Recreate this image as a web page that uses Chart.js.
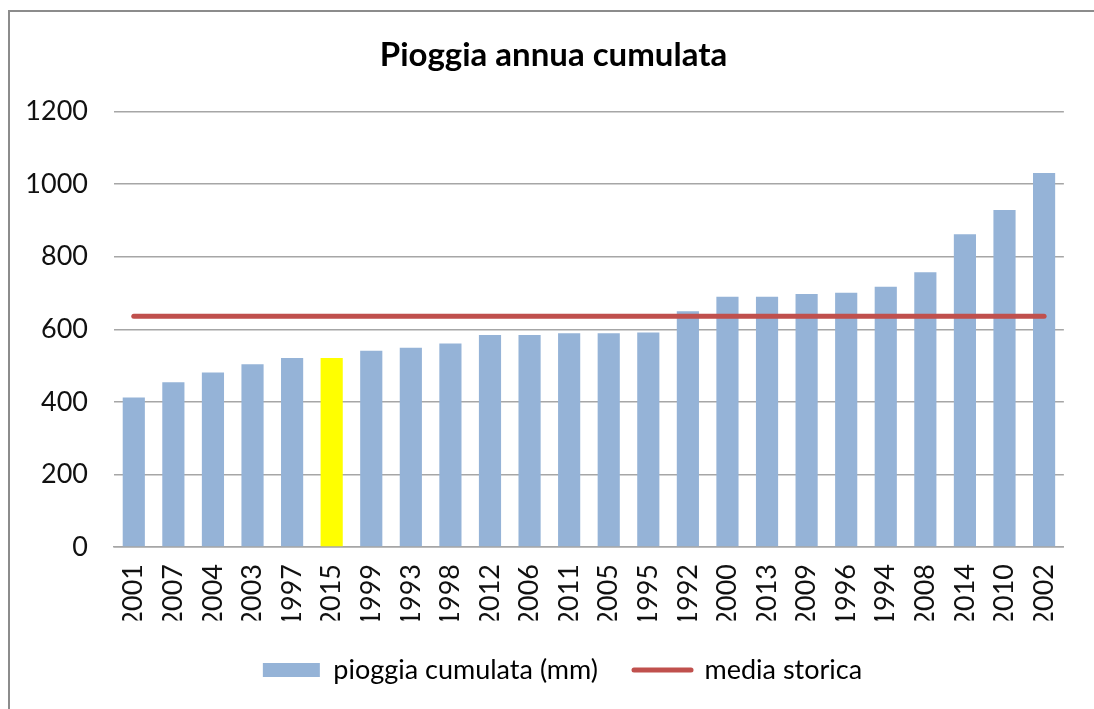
<!DOCTYPE html>
<html>
<head>
<meta charset="utf-8">
<script src="https://cdn.jsdelivr.net/npm/chart.js@4"></script>
<style>
  html, body { margin: 0; padding: 0; background: #fff; }
  body { width: 1094px; height: 709px; position: relative; overflow: hidden; }
  .frame { position: absolute; left: 8px; top: 10px; right: -10px; bottom: -10px; border-left: 2px solid #8c8c8c; border-top: 2px solid #8c8c8c; }
  #chart { position: absolute; left: 0; top: 0; }
</style>
</head>
<body>
<div class="frame"></div>
<canvas id="chart" width="1094" height="709"></canvas>
<script>
const years = ["2001", "2007", "2004", "2003", "1997", "2015", "1999", "1993", "1998", "2012", "2006", "2011",
  "2005", "1995", "1992", "2000", "2013", "2009", "1996", "1994", "2008", "2014", "2010", "2002"];
const rainfall = [412, 454, 481, 504, 521, 521, 541, 549, 561, 584, 584, 589,
  589, 591, 650, 690, 690, 697, 701, 717, 757, 862, 929, 1031];
const historicMean = [636, 636, 636, 636, 636, 636, 636, 636, 636, 636, 636, 636,
  636, 636, 636, 636, 636, 636, 636, 636, 636, 636, 636, 636];
const yTicks = [0, 200, 400, 600, 800, 1000, 1200];
const highlightYear = "2015";

const blue = "#95b3d7";
const yellow = "#ffff00";
const red = "#c0504d";
const font = "Lato, 'Open Sans', sans-serif";

const legendPad = 36;
const legendFont = 27;
const bottomPad = 15.5;

// title and legend sit a bit right of centre in the original
const shiftBoxes = {
  id: "shiftBoxes",
  afterLayout(chart) {
    if (chart.legend) {
      chart.legend.left += 28;
      chart.legend.right += 28;
    }
    if (chart.titleBlock) {
      chart.titleBlock.left += 19;
      chart.titleBlock.right += 19;
    }
  },
};

new Chart(document.getElementById("chart"), {
  data: {
    labels: years,
    datasets: [
      {
        type: "line",
        label: "media storica",
        data: historicMean,
        borderColor: red,
        backgroundColor: red,
        borderWidth: 5,
        borderCapStyle: "round",
        pointRadius: 0,
        order: 0,
      },
      {
        type: "bar",
        label: "pioggia cumulata (mm)",
        data: rainfall,
        backgroundColor: years.map((y) => (y === highlightYear ? yellow : blue)),
        borderWidth: 0,
        categoryPercentage: 1,
        barPercentage: 0.56,
        order: 1,
      },
    ],
  },
  plugins: [shiftBoxes],
  options: {
    responsive: false,
    animation: false,
    layout: { padding: { left: 0, right: 25, top: 0, bottom: bottomPad } },
    scales: {
      x: {
        grid: { display: false, drawTicks: false },
        border: { display: true, color: "#a6a6a6", width: 1.5 },
        ticks: { color: "#111", font: { family: font, size: 27 }, minRotation: 90, maxRotation: 90, padding: 17, autoSkip: false },
        afterFit: (scale) => { scale.height = 709 - bottomPad - (legendFont + legendPad + 10) - 547; },
      },
      y: {
        min: 0,
        max: 1200,
        afterBuildTicks: (scale) => { scale.ticks = yTicks.map((v) => ({ value: v })); },
        grid: { color: "#a6a6a6", lineWidth: 1.5, drawTicks: false },
        border: { display: false },
        ticks: { color: "#111", font: { family: font, size: 27 }, padding: 26, callback: (v) => String(v) },
        afterFit: (scale) => { scale.width = 114; },
      },
    },
    plugins: {
      title: {
        display: true,
        text: "Pioggia annua cumulata",
        color: "#000",
        font: { family: font, size: 33, weight: "bold", lineHeight: 1.2 },
        padding: { top: 36, bottom: 36 },
      },
      legend: {
        position: "bottom",
        reverse: true,
        labels: {
          color: "#111",
          font: { family: font, size: legendFont },
          usePointStyle: true,
          pointStyleWidth: 57,
          boxHeight: 14,
          padding: legendPad,
          generateLabels: (chart) => chart.data.datasets.map((ds, i) => ({
            text: ds.label,
            datasetIndex: i,
            fillStyle: ds.type === "bar" ? blue : red,
            strokeStyle: ds.type === "bar" ? blue : red,
            lineWidth: ds.type === "bar" ? 0 : 5,
            lineCap: "round",
            pointStyle: ds.type === "bar" ? "rect" : "line",
            hidden: false,
          })),
        },
      },
      tooltip: { enabled: false },
    },
  },
});
</script>
</body>
</html>
